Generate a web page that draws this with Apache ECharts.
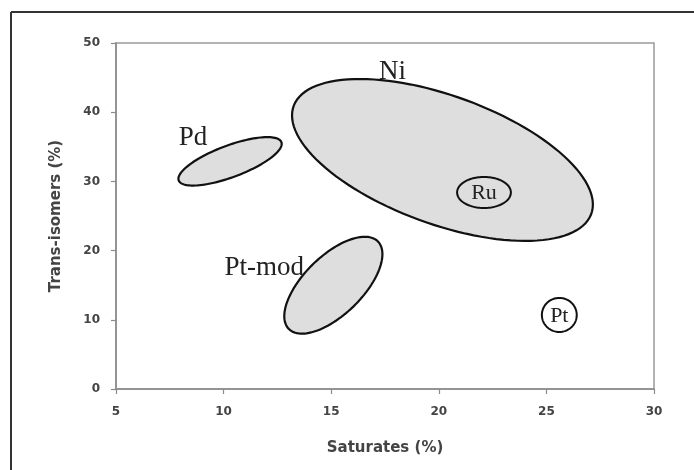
<!DOCTYPE html>
<html><head><meta charset="utf-8">
<script src="https://cdn.jsdelivr.net/npm/echarts@6/dist/echarts.min.js"></script>
<style>html,body{margin:0;padding:0;background:#fff}#c{width:694px;height:470px}</style>
</head><body><div id="c"></div>
<script>
// Region data (data units): center, half-extent in x and y, correlation
var names = ['Pd', 'Ni', 'Pt-mod', 'Ru', 'Pt'];
var centerX = [10.3, 20.17, 15.1, 22.1, 25.6];
var centerY = [32.9, 33.1, 15.0, 28.4, 10.7];
var spreadX = [2.4, 6.99, 2.28, 1.25, 0.81];
var spreadY = [3.5, 11.7, 7.0, 2.24, 2.46];
var corr = [0.72, -0.55, 0.64, 0, 0];
var xTicks = [5, 10, 15, 20, 25, 30];
var yTicks = [0, 10, 20, 30, 40, 50];

// styling (not data)
var filled = {'Pd': true, 'Ni': true, 'Pt-mod': true, 'Ru': false, 'Pt': false};
var labelOffset = {'Pd': [-37, -23], 'Ni': [-50, -88], 'Pt-mod': [-69, -17], 'Ru': [0, 1], 'Pt': [0, 1]};
var labelSize = {'Pd': 27, 'Ni': 27, 'Pt-mod': 27, 'Ru': 22, 'Pt': 22};
var strokeW = {'Pd': 2.2, 'Ni': 2.2, 'Pt-mod': 2.2, 'Ru': 2, 'Pt': 2};

var data = names.map(function (n, i) {
  return [centerX[i], centerY[i], spreadX[i], spreadY[i], corr[i], i];
});

var chart = echarts.init(document.getElementById('c'), null, {renderer: 'canvas'});
chart.setOption({
  animation: false,
  backgroundColor: '#fff',
  grid: {left: 116, right: 40, top: 43, bottom: 81, show: true, borderColor: '#9a9a9a', borderWidth: 1.5, backgroundColor: 'transparent'},
  xAxis: {
    type: 'value', min: xTicks[0], max: xTicks[xTicks.length - 1], interval: 5,
    splitLine: {show: false},
    axisLine: {lineStyle: {color: '#8a8a8a', width: 1.5}},
    axisTick: {show: true, length: 5, lineStyle: {color: '#8a8a8a', width: 1.2}},
    axisLabel: {color: '#444', fontFamily: 'DejaVu Sans', fontWeight: 'bold', fontSize: 12, margin: 17},
    name: 'Saturates (%)', nameLocation: 'middle', nameGap: 52,
    nameTextStyle: {color: '#444', fontFamily: 'DejaVu Sans', fontWeight: 'bold', fontSize: 15}
  },
  yAxis: {
    type: 'value', min: yTicks[0], max: yTicks[yTicks.length - 1], interval: 10,
    splitLine: {show: false},
    axisLine: {lineStyle: {color: '#8a8a8a', width: 1.5}},
    axisTick: {show: true, length: 5, lineStyle: {color: '#8a8a8a', width: 1.2}},
    axisLabel: {color: '#444', fontFamily: 'DejaVu Sans', fontWeight: 'bold', fontSize: 12, margin: 16},
    name: 'Trans-isomers (%)', nameLocation: 'middle', nameGap: 52, nameRotate: 90,
    nameTextStyle: {color: '#444', fontFamily: 'DejaVu Sans', fontWeight: 'bold', fontSize: 15}
  },
  graphic: [
    {type: 'line', shape: {x1: 11, y1: 12, x2: 694, y2: 12}, style: {stroke: '#333', lineWidth: 2}, z: 10},
    {type: 'line', shape: {x1: 11, y1: 12, x2: 11, y2: 470}, style: {stroke: '#333', lineWidth: 2}, z: 10}
  ],
  series: [{
    type: 'custom',
    coordinateSystem: 'cartesian2d',
    data: data,
    clip: false,
    renderItem: function (params, api) {
      var cx = api.value(0), cy = api.value(1), sx = api.value(2), sy = api.value(3), r = api.value(4);
      var name = names[api.value(5)];
      var pts = [];
      var q = Math.sqrt(1 - r * r);
      for (var k = 0; k < 120; k++) {
        var t = 2 * Math.PI * k / 120;
        pts.push(api.coord([cx + sx * Math.cos(t), cy + sy * (r * Math.cos(t) + q * Math.sin(t))]));
      }
      var c = api.coord([cx, cy]);
      var off = labelOffset[name];
      return {
        type: 'group',
        children: [
          {type: 'polygon', shape: {points: pts, smooth: 0},
           style: {fill: filled[name] ? '#dedede' : 'transparent', stroke: '#111', lineWidth: strokeW[name]}},
          {type: 'text', x: c[0] + off[0], y: c[1] + off[1],
           style: {text: name, fontFamily: 'Liberation Serif', fontSize: labelSize[name], fill: '#222',
                   align: 'center', verticalAlign: 'middle'}, z2: 5}
        ]
      };
    }
  }]
});
</script></body></html>
